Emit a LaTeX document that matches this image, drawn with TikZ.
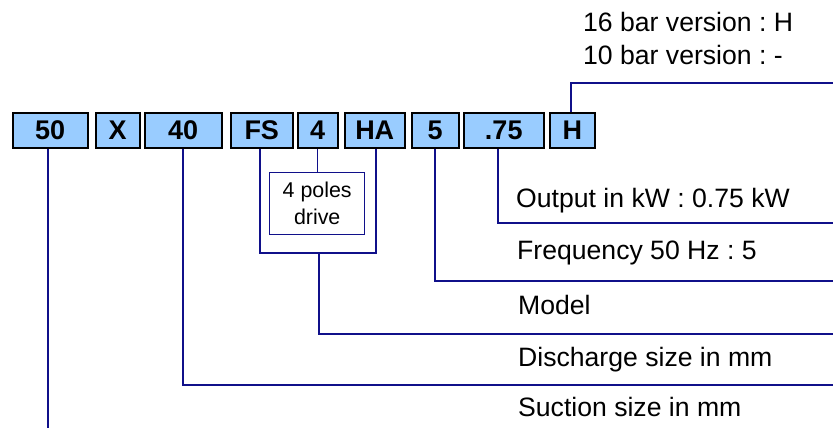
\documentclass[tikz,border=0pt]{standalone}
\usepackage{fontspec}
\setmainfont{Liberation Sans}
\definecolor{boxblue}{HTML}{99CCFF}
\definecolor{navy}{HTML}{10108A}
\frenchspacing
\begin{document}
\begin{tikzpicture}[x=1pt,y=-1pt,
  codebox/.style={draw=black, line width=1.5pt, fill=boxblue, inner sep=0pt,
    minimum height=35pt, anchor=north west,
    font=\fontsize{27}{30}\selectfont\bfseries},
  conn/.style={draw=navy, line width=1.4pt},
  lab/.style={anchor=base west, inner sep=0pt, font=\fontsize{26.6}{32}\selectfont},
  notebox/.style={draw=navy, line width=1.4pt, fill=white, align=center, inner sep=0pt,
    minimum width=95pt, minimum height=62pt, anchor=north west,
    font=\fontsize{21.4}{27}\selectfont}]
\useasboundingbox (0,0) rectangle (833,428);

% code boxes
\node[codebox, minimum width=75pt] (b50) at (12,112) {50};
\node[codebox, minimum width=44pt] (bX) at (95,112) {X};
\node[codebox, minimum width=77pt] (b40) at (144,112) {40};
\node[codebox, minimum width=62pt] (bFS) at (230,112) {FS};
\node[codebox, minimum width=40pt] (b4) at (297,112) {4};
\node[codebox, minimum width=60pt] (bHA) at (344,112) {HA};
\node[codebox, minimum width=47pt] (b5) at (411,112) {5};
\node[codebox, minimum width=80pt] (b75) at (463,112) {.75};
\node[codebox, minimum width=45pt] (bH) at (549,112) {H};

% note box
\node[notebox] (poles) at (269,172) {4 poles\\drive};

% labels
\node[lab] (t16) at (583,32) {16 bar version : H};
\node[lab] (t10) at (583,65) {10 bar version : -};
\node[lab] (tout) at (516,207) {Output in kW : 0.75 kW};
\node[lab] (tfreq) at (517,259) {Frequency 50 Hz : 5};
\node[lab] (tmod) at (518,314) {Model};
\node[lab] (tdis) at (518,366) {Discharge size in mm};
\node[lab] (tsuc) at (518,416) {Suction size in mm};

% coordinates
\coordinate (e50) at (48,428);
\coordinate (c40) at (183,385);
\coordinate (e40) at (833,385);
\coordinate (bl) at (260,253);
\coordinate (br) at (376,253);
\coordinate (bm) at (319,253);
\coordinate (cdis) at (319,334);
\coordinate (edis) at (833,334);
\coordinate (c5) at (435,281);
\coordinate (e5) at (833,281);
\coordinate (c75) at (498,223);
\coordinate (e75) at (833,223);
\coordinate (cH) at (571,83);
\coordinate (eH) at (833,83);

% connectors
\draw[conn] (e50 |- b50.south) -- (e50);
\draw[conn] (c40 |- b40.south) -- (c40) -- (e40);
\draw[conn] (bl |- bFS.south) -- (bl) -- (br) -- (br |- bHA.south);
\draw[conn] (bm) -- (cdis) -- (edis);
\draw[conn] (poles.north) -- (poles.north |- b4.south);
\draw[conn] (c5 |- b5.south) -- (c5) -- (e5);
\draw[conn] (c75 |- b75.south) -- (c75) -- (e75);
\draw[conn] (cH |- bH.north) -- (cH) -- (eH);
\end{tikzpicture}
\end{document}
